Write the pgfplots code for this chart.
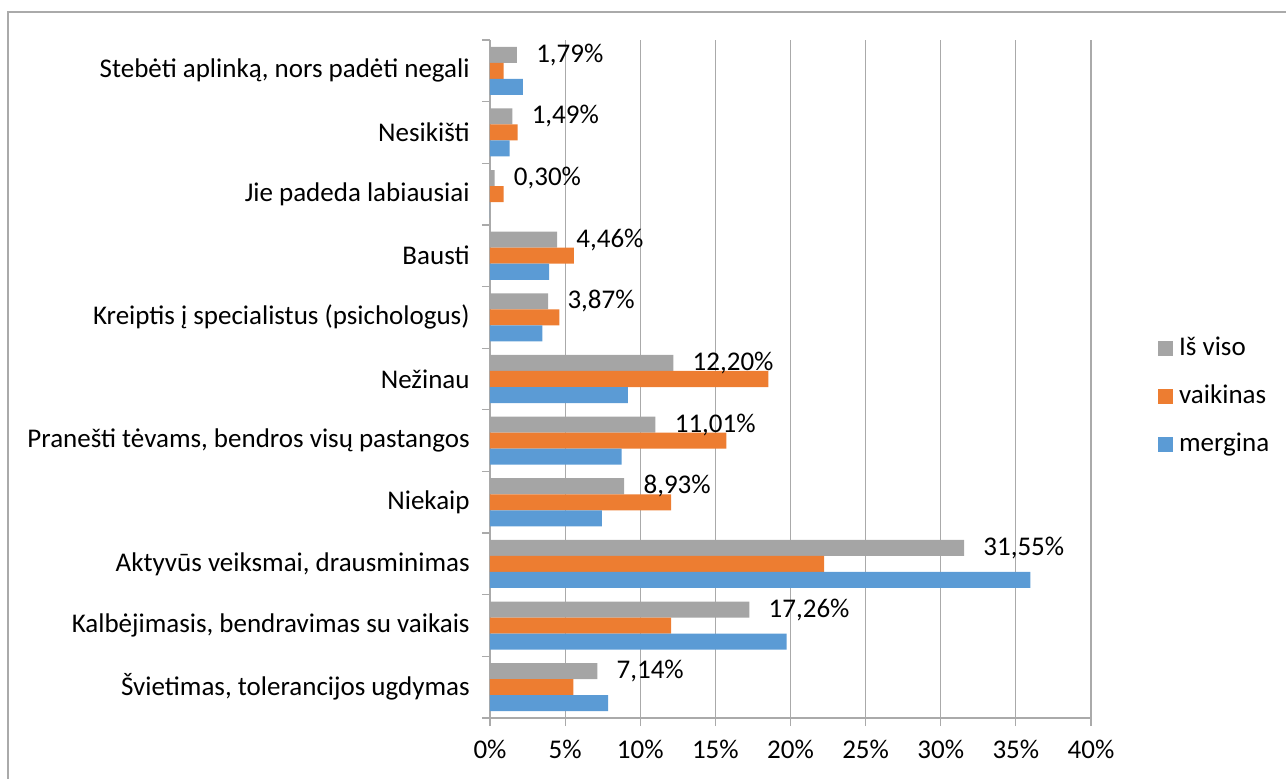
\documentclass[border=0pt]{standalone}
\usepackage{pgfplots}
\pgfplotsset{compat=1.18}
\usepackage{fontspec}
\setmainfont{Carlito}
\definecolor{cgray}{RGB}{165,165,165}
\definecolor{corange}{RGB}{237,125,49}
\definecolor{cblue}{RGB}{91,155,213}
\definecolor{linec}{RGB}{170,170,170}
\pgfplotsset{sqlegend/.style={legend image code/.code={\fill[##1] (0pt,-3.75pt) rectangle (7.5pt,3.75pt);}}}
\begin{document}
\fontsize{13.5}{16.2}\selectfont
\begin{tikzpicture}
\useasboundingbox (0,0) rectangle (643pt,389pt);
\draw[linec, line width=0.6pt] (4pt,-20pt) -- (4pt,383pt) -- (700pt,383pt);
\begin{axis}[
    at={(245pt,30pt)}, anchor=south west,
    scale only axis, width=300.5pt, height=339pt,
    xmin=0, xmax=40, ymin=-0.5, ymax=10.5,
    xbar, bar width=0.26,
    axis x line*=bottom, axis y line*=left,
    axis line style={linec, line width=0.6pt},
    xtick={0,5,...,40}, minor xtick={0,5,...,40},
    ytick={0,...,10}, minor ytick={-0.5,0.5,...,10.5},
    major tick length=0pt, minor tick length=4pt, tick align=outside,
    tick style={linec, line width=0.6pt},
    xmajorgrids=true, major grid style={linec, line width=0.6pt},
    /pgf/number format/assume math mode=true,
    xticklabel={\pgfmathprintnumber{\tick}\%},
    xticklabel style={yshift=-6.5pt},
    yticklabel style={xshift=-5.5pt},
    yticklabels={
      {Švietimas, tolerancijos ugdymas},
      {Kalbėjimasis, bendravimas su vaikais},
      {Aktyvūs veiksmai, drausminimas},
      {Niekaip},
      {Pranešti tėvams, bendros visų pastangos},
      {Nežinau},
      {Kreiptis į specialistus (psichologus)},
      {Bausti},
      {Jie padeda labiausiai},
      {Nesikišti},
      {Stebėti aplinką, nors padėti negali}},
    legend cell align=left,
    legend style={at={(1.111,0.4735)}, anchor=west, draw=none, fill=none,
      inner sep=0pt, row sep=8.5pt,
      nodes={text height=9.5pt, text depth=3pt, inner ysep=1.5pt, inner xsep=3pt}},
  ]
  \addplot[fill=cgray, draw=none, bar shift=0.26, sqlegend,
    point meta=x, nodes near coords={\pgfmathprintnumber[fixed,fixed zerofill,precision=2,use comma]{\pgfplotspointmeta}\%},
    nodes near coords style={anchor=west, xshift=5pt, text=black}]
    coordinates {(7.14,0) (17.26,1) (31.55,2) (8.93,3) (11.01,4) (12.20,5)
                 (3.87,6) (4.46,7) (0.30,8) (1.49,9) (1.79,10)};
  \addplot[fill=corange, draw=none, bar shift=0, sqlegend]
    coordinates {(5.55,0) (12.05,1) (22.24,2) (12.05,3) (15.74,4) (18.53,5)
                 (4.62,6) (5.58,7) (0.91,8) (1.84,9) (0.91,10)};
  \addplot[fill=cblue, draw=none, bar shift=-0.26, sqlegend]
    coordinates {(7.87,0) (19.74,1) (35.97,2) (7.45,3) (8.76,4) (9.18,5)
                 (3.49,6) (3.93,7) (0,8) (1.31,9) (2.18,10)};
  \legend{Iš viso, vaikinas, mergina}
\end{axis}
\end{tikzpicture}
\end{document}
